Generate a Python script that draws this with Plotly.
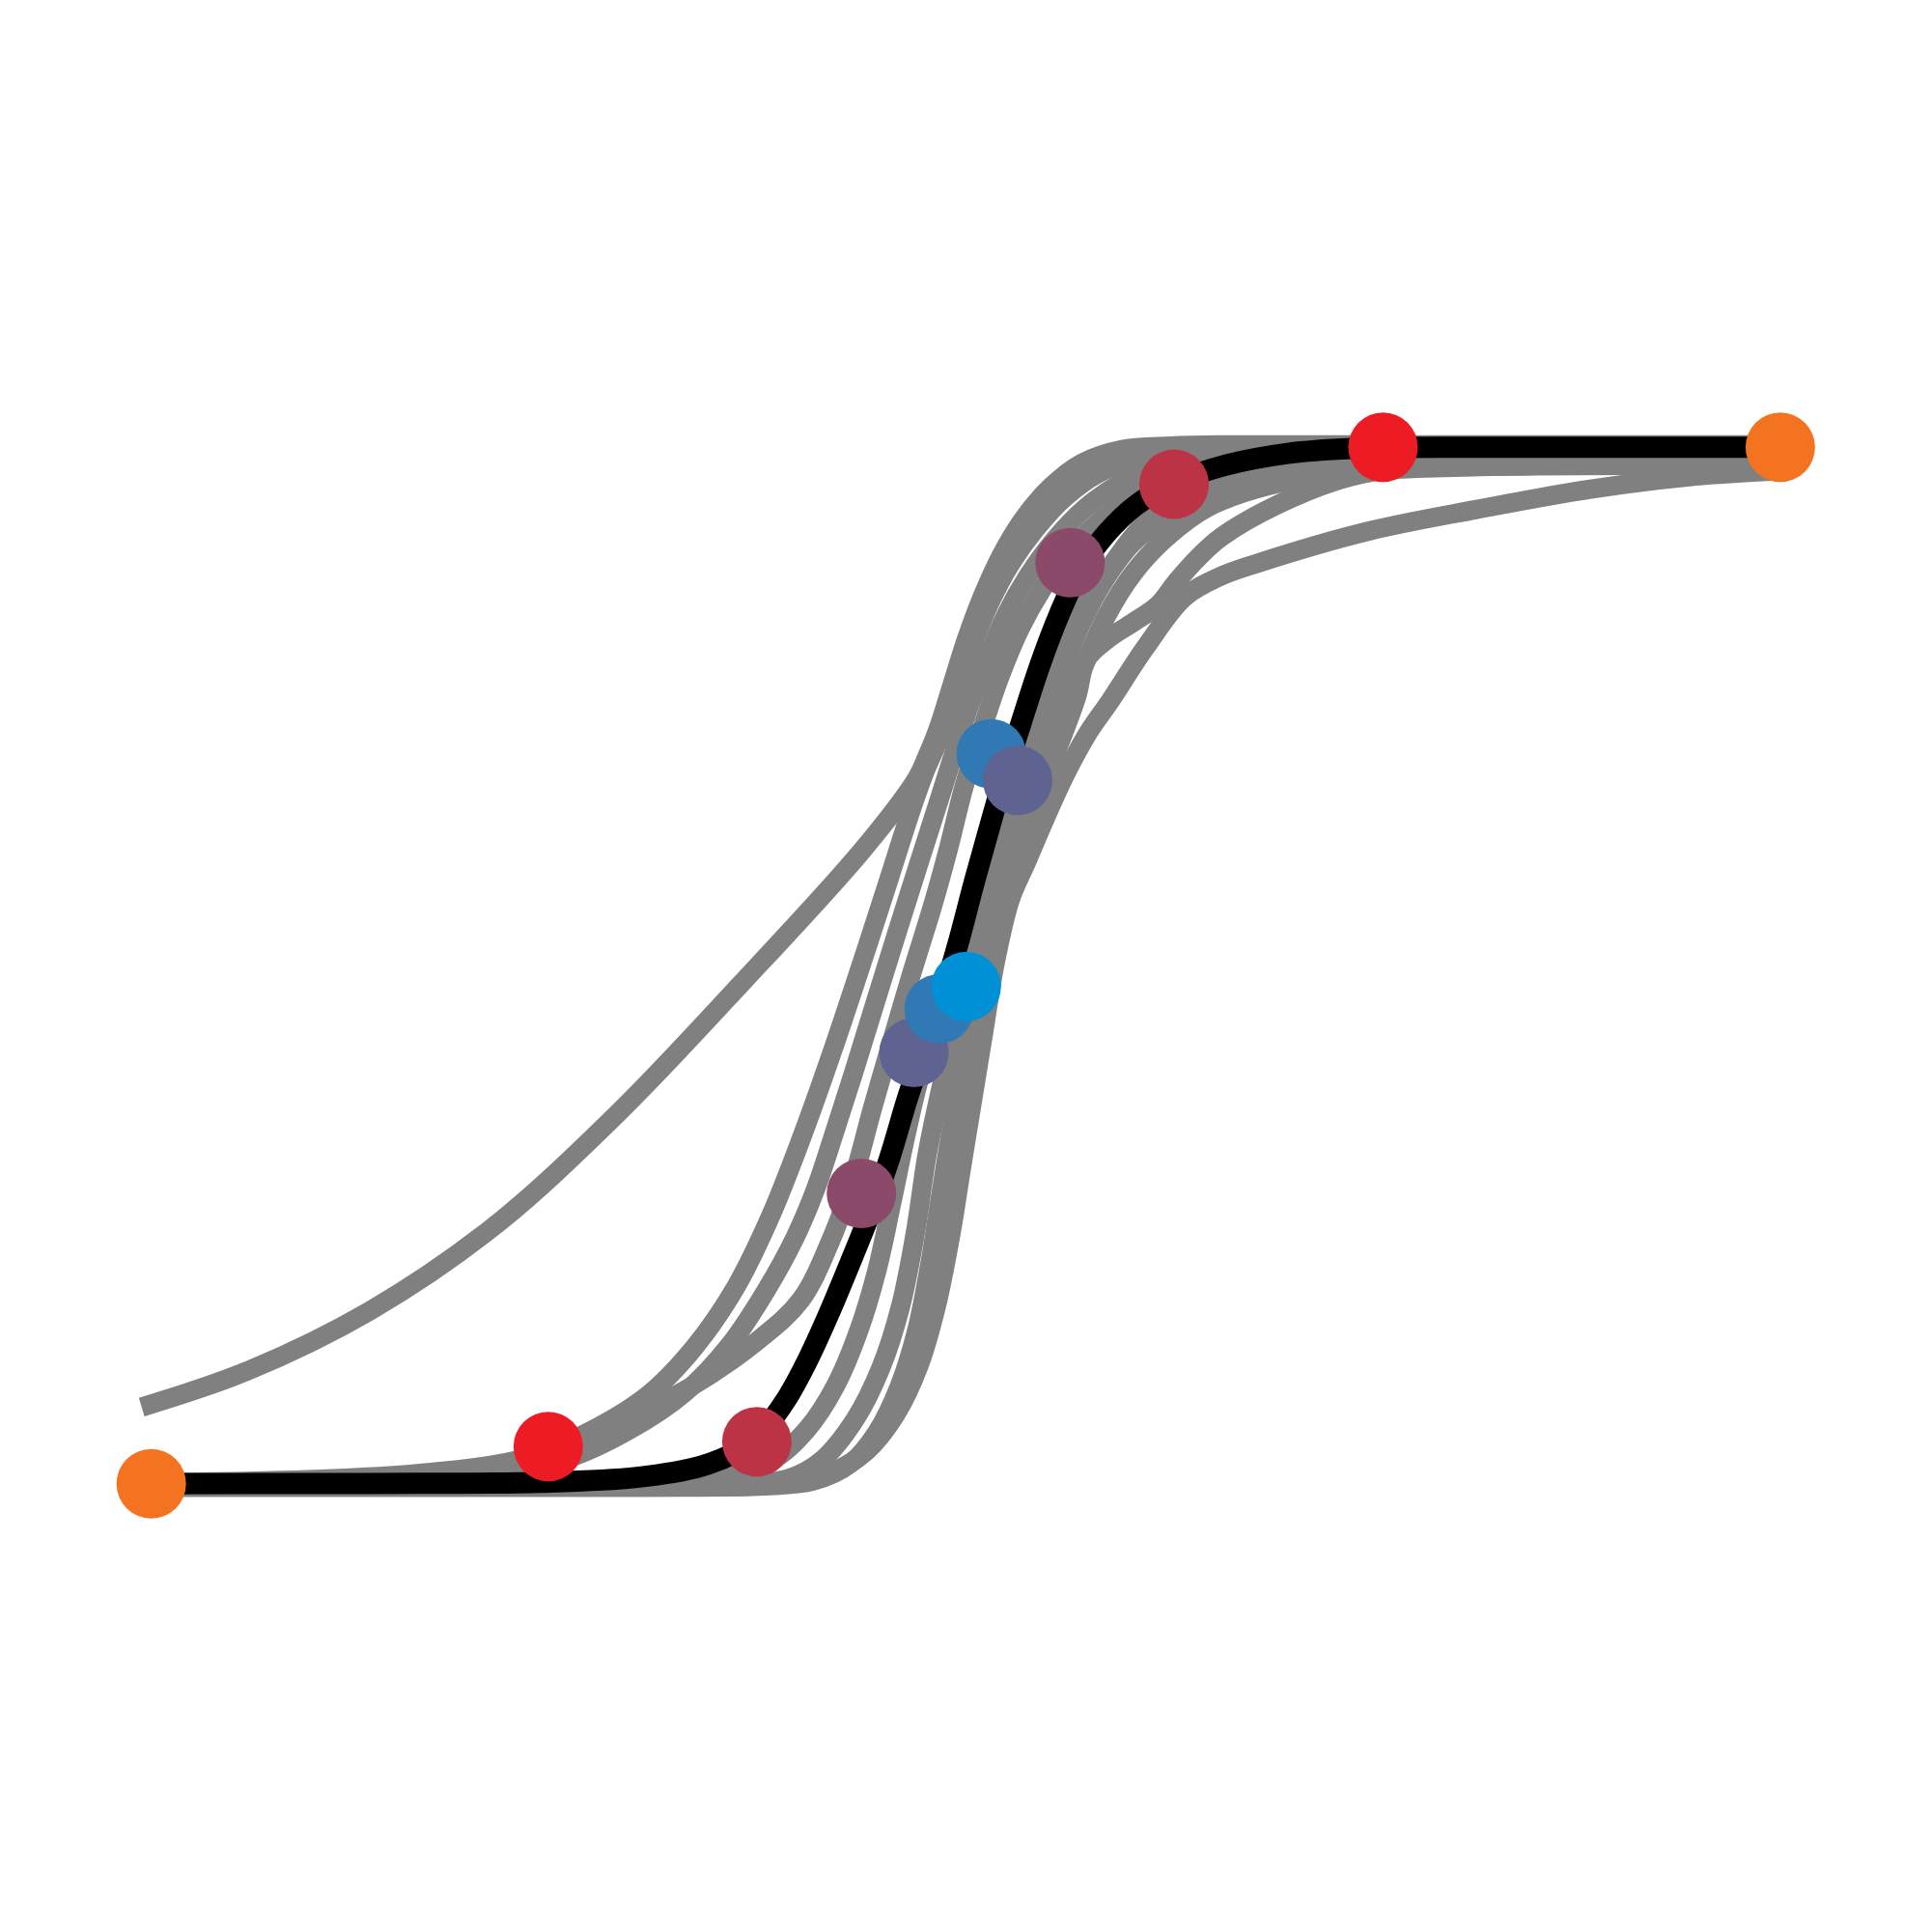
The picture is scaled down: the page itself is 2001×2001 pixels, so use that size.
import plotly.graph_objects as go

# all values, in drawing units (0..1568 both ways, y down)

# the black curve
main_x = [122.8, 300, 440, 517, 569, 598, 620, 638, 655, 672, 690, 708, 722, 737, 750, 762, 777, 791, 803, 815, 829, 844, 860, 877, 898, 922, 953, 993, 1045, 1097, 1200, 1444.9]
main_y = [1204.2, 1204, 1203, 1199, 1190, 1178, 1160, 1136, 1105, 1068, 1025, 980, 940, 890, 852, 818, 768, 715, 672, 630, 586, 540, 498, 462, 433, 410, 392, 378, 368, 364, 363, 363]

# grey curves, one (x, y) pair each
grey_curves = {
    "wide": (
        [115, 200, 300, 400, 500, 600, 700, 744, 752, 762, 773, 784, 797, 812, 830, 852, 878, 910, 950, 1000, 1444],
        [1142, 1113, 1064, 996, 905, 800, 690, 632, 615, 590, 555, 520, 485, 452, 422, 396, 376, 365, 362, 361, 361],
    ),
    "left_1": (
        [122, 250, 350, 420, 470, 525, 564, 597, 625, 650, 675, 700, 722, 738, 750, 762, 775, 788, 803, 820, 840, 864, 892, 930, 1000, 1444],
        [1203, 1201, 1195, 1185, 1166, 1133, 1093, 1045, 988, 925, 855, 780, 712, 662, 628, 600, 563, 527, 490, 458, 430, 404, 384, 370, 364, 362],
    ),
    "left_2": (
        [122, 300, 400, 460, 510, 556, 592, 622, 645, 662, 677, 693, 710, 728, 746, 762, 774, 786, 800, 816, 834, 856, 880, 910, 945, 1000, 1444],
        [1204, 1202, 1196, 1184, 1161, 1130, 1092, 1047, 1005, 965, 920, 870, 815, 757, 700, 650, 612, 575, 538, 500, 468, 438, 413, 392, 378, 369, 364],
    ),
    "left_3": (
        [122, 300, 400, 445, 500, 560, 615, 650, 675, 693, 708, 723, 740, 757, 770, 782, 797, 812, 828, 846, 866, 890, 920, 955, 1000, 1060, 1444],
        [1204, 1201, 1192, 1176, 1156, 1126, 1088, 1055, 1005, 955, 900, 848, 790, 735, 688, 640, 592, 548, 510, 478, 450, 425, 403, 387, 376, 368, 364],
    ),
    "mid": (
        [122, 450, 570, 625, 655, 678, 697, 712, 724, 736, 748, 762, 778, 793, 806, 817, 830, 846, 862, 880, 901, 931, 976, 1036, 1096, 1250, 1444],
        [1206, 1205, 1200, 1186, 1160, 1125, 1080, 1030, 975, 918, 870, 838, 800, 745, 690, 655, 620, 575, 530, 490, 460, 423, 397, 384, 377, 376, 378],
    ),
    "right_1": (
        [122, 500, 600, 640, 666, 694, 715, 731, 743, 752, 760, 770, 783, 797, 810, 820, 832, 847, 862, 878, 897, 920, 950, 990, 1040, 1100, 1250, 1444],
        [1206, 1206, 1205, 1200, 1186, 1152, 1110, 1060, 1000, 940, 900, 858, 822, 772, 710, 672, 634, 590, 545, 505, 470, 440, 418, 400, 388, 381, 378, 378],
    ),
    "right_2": (
        [122, 500, 620, 660, 690, 712, 730, 744, 754, 762, 770, 779, 790, 803, 816, 830, 846, 862, 874, 882, 900, 920, 940, 955, 972, 991, 1036, 1096, 1171, 1321, 1444],
        [1207, 1207, 1206, 1202, 1188, 1162, 1125, 1080, 1030, 980, 930, 880, 830, 780, 730, 680, 637, 598, 565, 535, 518, 505, 491, 472, 453, 436, 410, 387, 377, 374, 372],
    ),
    "right_3": (
        [122, 500, 630, 668, 698, 722, 740, 754, 766, 776, 784, 793, 803, 815, 826, 838, 850, 864, 880, 898, 920, 946, 980, 1030, 1100, 1250, 1444],
        [1206, 1206, 1205, 1198, 1182, 1155, 1118, 1070, 1010, 950, 900, 845, 790, 740, 700, 660, 620, 580, 540, 500, 465, 437, 412, 394, 383, 378, 378],
    ),
    "right_4": (
        [122, 400, 600, 645, 675, 703, 727, 746, 760, 772, 780, 788, 798, 808, 820, 833, 848, 865, 883, 901, 930, 961, 990, 1021, 1111, 1201, 1291, 1371, 1444],
        [1207, 1207, 1206, 1203, 1195, 1178, 1148, 1108, 1060, 1000, 950, 901, 840, 780, 730, 700, 665, 628, 595, 569, 525, 485, 468, 457, 431, 413, 397, 387, 382],
    ),
}

# coloured points along the black curve
dot_x = [122.8, 445.0, 614.3, 699.2, 741.8, 762.2, 784.2, 804.5, 825.9, 868.5, 952.9, 1122.5, 1444.9]
dot_y = [1204.2, 1174.1, 1170.2, 968.5, 854.1, 818.9, 800.6, 611.8, 633.4, 456.6, 393.1, 363.0, 363.0]
dot_colors = ["#F47320", "#ED1C24", "#BD3346", "#8C4A6A", "#5F6391", "#3179B5", "#0090D6",
              "#3179B5", "#5F6391", "#8C4A6A", "#BD3346", "#ED1C24", "#F47320"]

fig = go.Figure()

for name, (xs, ys) in grey_curves.items():
    fig.add_trace(go.Scatter(
        x=xs, y=ys, mode="lines", name=name,
        line=dict(color="#808080", width=20, shape="spline", smoothing=1.0),
        hoverinfo="skip",
    ))

fig.add_trace(go.Scatter(
    x=main_x, y=main_y, mode="lines", name="curve",
    line=dict(color="#000000", width=22, shape="spline", smoothing=1.0),
))

fig.add_trace(go.Scatter(
    x=dot_x, y=dot_y, mode="markers", name="points",
    marker=dict(size=72, color=dot_colors, line=dict(width=0)),
))

# the page adds a small body margin, so the ranges are nudged to compensate
fig.update_xaxes(range=[6.3, 1574.3], visible=False)
fig.update_yaxes(range=[1574.3, 6.3], visible=False)
fig.update_layout(
    width=2001, height=2001,
    margin=dict(l=0, r=0, t=0, b=0),
    plot_bgcolor="white", paper_bgcolor="white",
    showlegend=False,
)

fig.write_html("out.html")
